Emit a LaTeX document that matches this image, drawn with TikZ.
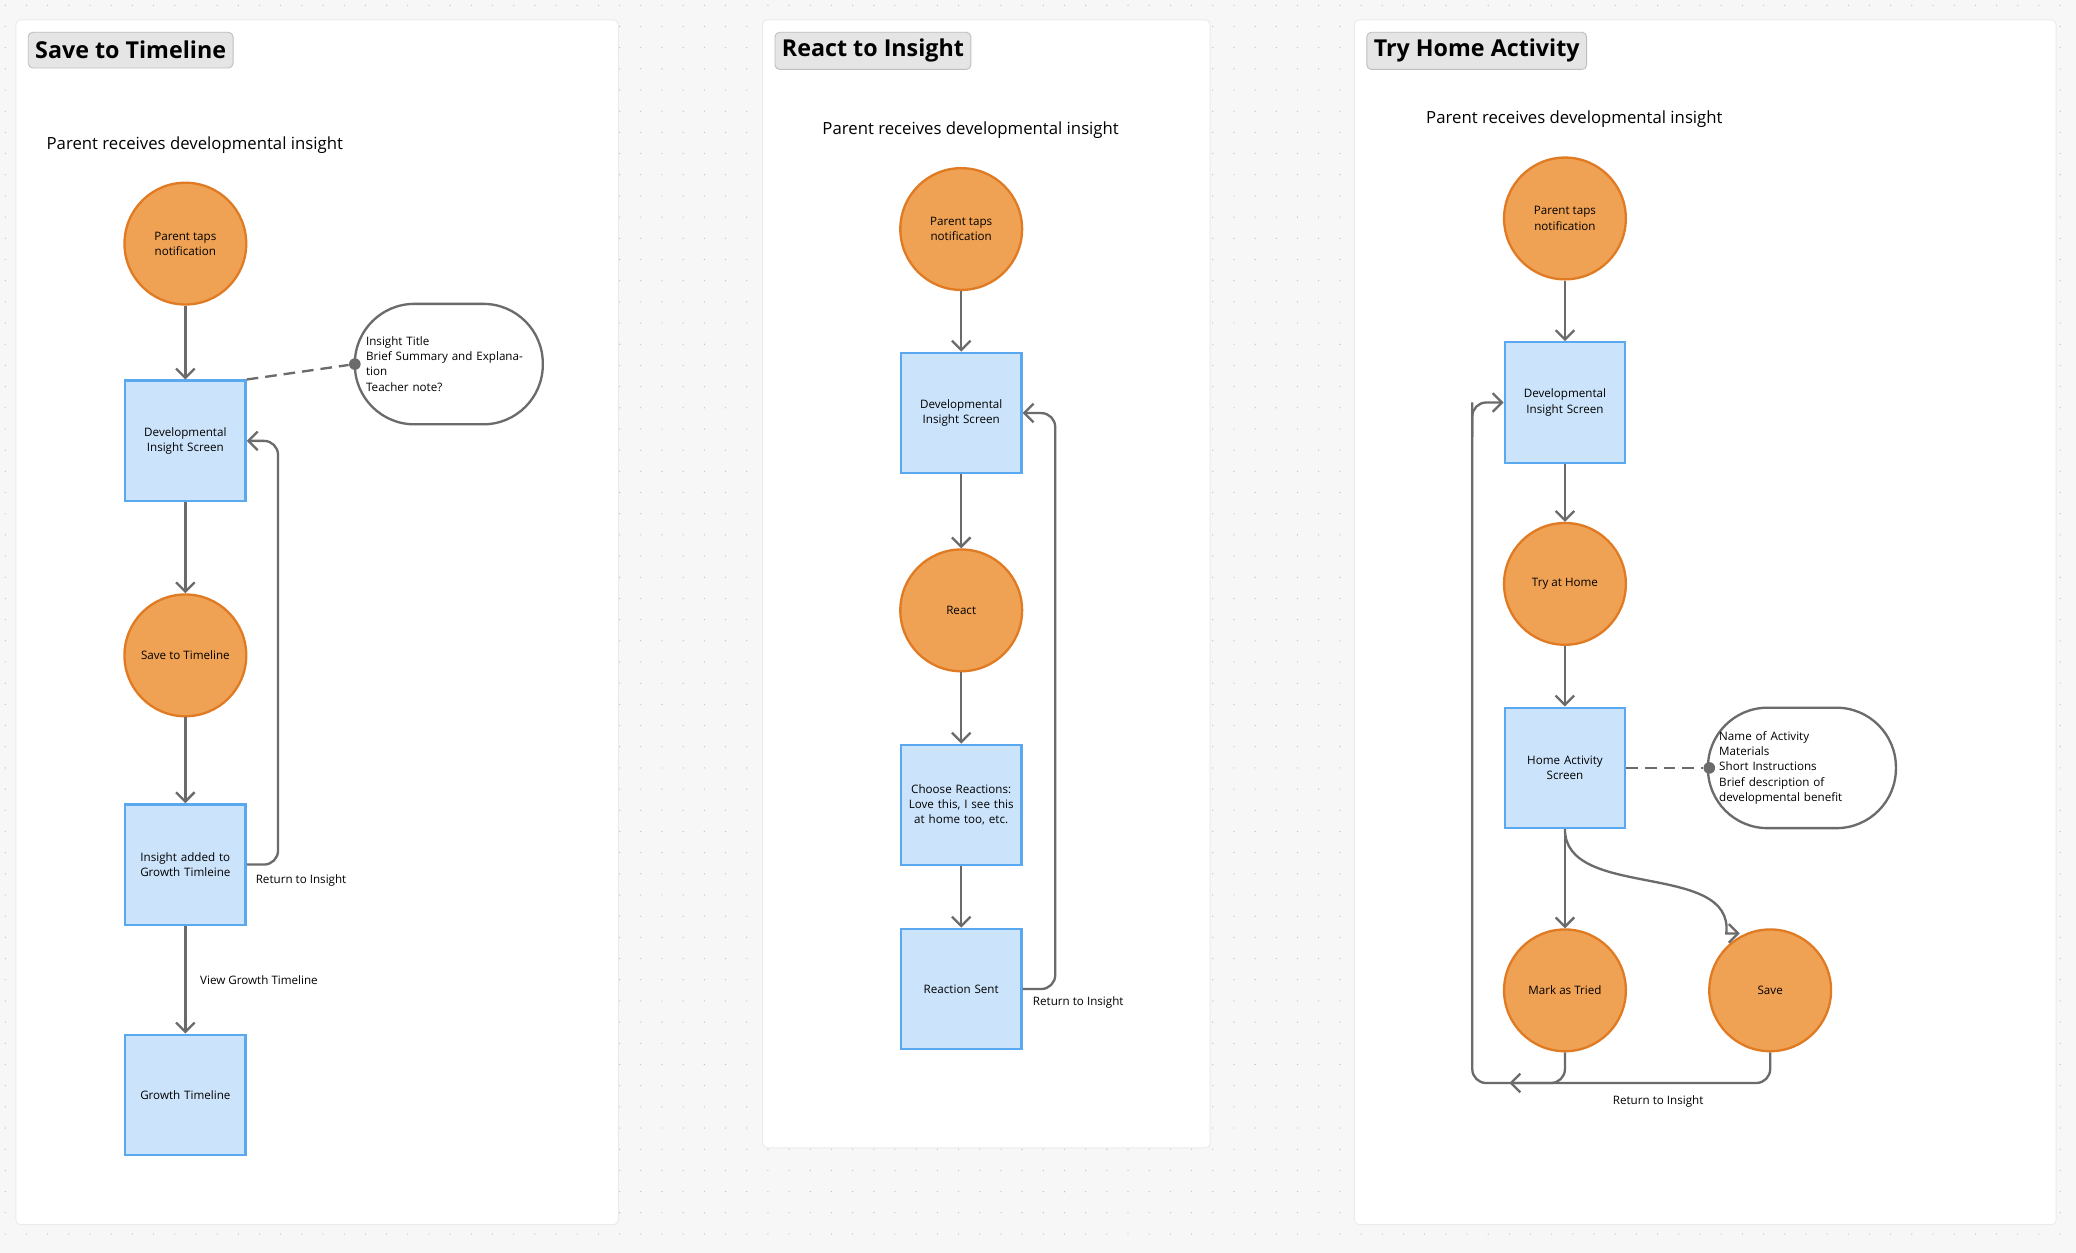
\documentclass[tikz,border=0pt]{standalone}
\usepackage{fontspec}
\setmainfont{Open Sans}
\usetikzlibrary{arrows.meta}
\definecolor{orf}{HTML}{F0A254}
\definecolor{ord}{HTML}{E07B24}
\definecolor{blf}{HTML}{CCE4FB}
\definecolor{bld}{HTML}{5AA8F0}
\definecolor{ln}{HTML}{6B6B6B}
\tikzset{
 circ/.style={circle,fill=orf,draw=ord,line width=1pt,minimum size=1.84cm,inner sep=0pt,align=center,font=\fontsize{5}{6.5}\selectfont},
 rbox/.style={rectangle,fill=blf,draw=bld,line width=1pt,minimum size=1.82cm,inner sep=1pt,align=center,font=\fontsize{5}{6.5}\selectfont,text width=1.7cm},
 callout/.style={rectangle,rounded corners=0.9cm,draw=ln,line width=1pt,fill=white,minimum width=2.84cm,minimum height=1.82cm,align=left,font=\fontsize{5}{6.5}\selectfont,text width=2.5cm},
 arr/.style={draw=ln,line width=1pt,-{Straight Barb[length=4pt,width=8pt]}},
 ln/.style={draw=ln,line width=1pt},
 dsh/.style={draw=ln,line width=1pt,dash pattern=on 5pt off 3pt},
 panel/.style={fill=white,draw=black!8,rounded corners=2pt},
 tag/.style={fill=black!10,draw=black!25,rounded corners=2pt,anchor=north west,font=\fontsize{10}{12}\selectfont\bfseries,inner sep=3pt,minimum height=0.54cm},
 sub/.style={anchor=west,font=\fontsize{7.2}{9}\selectfont},
 lbl/.style={anchor=west,font=\fontsize{5}{6}\selectfont},
 dot/.style={circle,fill=ln,inner sep=0pt,minimum size=5pt}
}
\begin{document}
\begin{tikzpicture}[x=0.02cm,y=-0.02cm]
\fill[black!3] (0,0) rectangle (1568,946);
\useasboundingbox (0,0) rectangle (1568,946);
\foreach \i in {0,...,97}{\foreach \j in {0,...,58}{\fill[black!25] (\i*16+4,\j*16+4) circle (0.5);}}
\draw[panel] (12,15) rectangle (467,925);
\draw[panel] (576,15) rectangle (914,867);
\draw[panel] (1023,15) rectangle (1553,925);
\node[tag] (t1) at (21,24) {Save to Timeline};
\node[tag] (t2) at (585,24) {React to Insight};
\node[tag] (t3) at (1032,24) {Try Home Activity};
% panel 1
\node[sub] (s1) at (29,110) {Parent receives developmental insight};
\node[circ] (a1) at (140,184) {Parent taps\\notification};
\node[rbox] (a2) at (140,333) {Developmental\\Insight Screen};
\node[circ] (a3) at (140,495) {Save to Timeline};
\node[rbox] (a4) at (140,653) {Insight added to\\Growth Timleine};
\node[rbox] (a5) at (140,827) {Growth Timeline};
\node[callout] (c1) at (339,275) {Insight Title\\Brief Summary and Explanation\\Teacher note?};
\node[dot] (d1) at (268,275) {};
\draw[arr] (a1) -- (a2);
\draw[arr] (a2) -- (a3);
\draw[arr] (a3) -- (a4);
\draw[arr] (a4) -- (a5);
\draw[dsh] (a2.north east) -- (d1);
\draw[arr,rounded corners=6pt] (a4.east) -- (210,653) -- (210,333) -- (a2.east);
\node[lbl] (r1) at (187,665) {Return to Insight};
\node[lbl] (v1) at (145,740) {View Growth Timeline};
% panel 2
\node[sub] (s2) at (615,98) {Parent receives developmental insight};
\node[circ] (b1) at (726,173) {Parent taps\\notification};
\node[rbox] (b2) at (726,312) {Developmental\\Insight Screen};
\node[circ] (b3) at (726,461) {React};
\node[rbox] (b4) at (726,608) {Choose Reactions:\\Love this, I see this\\at home too, etc.};
\node[rbox] (b5) at (726,747) {Reaction Sent};
\draw[arr] (b1) -- (b2);
\draw[arr] (b2) -- (b3);
\draw[arr] (b3) -- (b4);
\draw[arr] (b4) -- (b5);
\draw[arr,rounded corners=6pt] (b5.east) -- (797,747) -- (797,312) -- (b2.east);
\node[lbl] (r2) at (774,757) {Return to Insight};
% panel 3
\node[sub] (s3) at (1071,90) {Parent receives developmental insight};
\node[circ] (e1) at (1182,165) {Parent taps\\notification};
\node[rbox] (e2) at (1182,304) {Developmental\\Insight Screen};
\node[circ] (e3) at (1182,441) {Try at Home};
\node[rbox] (e4) at (1182,580) {Home Activity\\Screen};
\node[callout] (c3) at (1361,580) {Name of Activity\\Materials\\Short Instructions\\Brief description of\\developmental benefit};
\node[dot] (d3) at (1291,580) {};
\node[circ] (e5) at (1182,748) {Mark as Tried};
\node[circ] (e6) at (1337,748) {Save};
\coordinate (j1) at (1140,818);
\draw[arr] (e1) -- (e2);
\draw[arr] (e2) -- (e3);
\draw[arr] (e3) -- (e4);
\draw[arr] (e4) -- (e5);
\draw[dsh] (e4.east) -- (d3);
\draw[arr] (e4.south) .. controls (1182,680) and (1310,650) .. (e6.north west|-0,705) -- (1314,705);
\draw[ln,rounded corners=6pt] (e5.south) -- (1182,818) -- (1112,818) -- (1112,304);
\draw[arr,rounded corners=6pt] (1112,330) -- (1112,304) -- (e2.west);
\draw[arr,rounded corners=6pt] (e6.south) -- (1337,818) -- (j1);
\node[lbl] (r3) at (1212,832) {Return to Insight};
\end{tikzpicture}
\end{document}
